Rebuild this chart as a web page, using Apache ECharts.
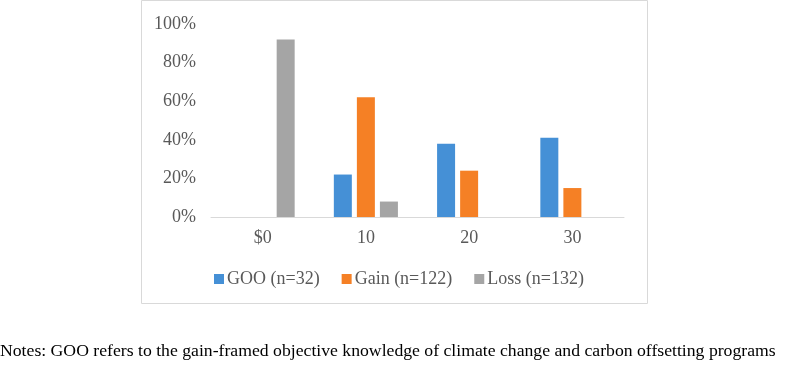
<!DOCTYPE html>
<html>
<head>
<meta charset="utf-8">
<script src="https://cdn.jsdelivr.net/npm/echarts@6/dist/echarts.min.js"></script>
<style>
  html, body { margin: 0; padding: 0; background: #fff; }
  #chart { width: 787px; height: 370px; }
</style>
</head>
<body>
<div id="chart"></div>
<script>
// categories and values (percent)
const categories = ['$0', '10', '20', '30'];
const seriesNames = ['GOO (n=32)', 'Gain (n=122)', 'Loss (n=132)'];
const gooValues = [null, 22, 38, 41];
const gainValues = [null, 62, 24, 15];
const lossValues = [92, 8, null, null];
const yTicks = [0, 20, 40, 60, 80, 100];

const colors = ['#4590D6', '#F58025', '#A5A5A5'];
const serif = 'Liberation Serif';

const chart = echarts.init(document.getElementById('chart'));

function makeSeries(name, data) {
  return {
    name: name,
    type: 'bar',
    barWidth: 18,
    barGap: '28%',
    data: data
  };
}

chart.setOption({
  animation: false,
  color: colors,
  textStyle: { fontFamily: serif },
  grid: { left: 211, right: 163, top: 24, bottom: 153 },
  legend: {
    left: 209,
    top: 265,
    icon: 'rect',
    itemWidth: 10,
    itemHeight: 10,
    itemGap: 22,
    textStyle: { fontFamily: serif, fontSize: 18, color: '#595959', padding: [0, 0, 0, -2] },
    data: seriesNames
  },
  xAxis: {
    type: 'category',
    data: categories,
    axisTick: { show: false },
    axisLine: { lineStyle: { color: '#d9d9d9', width: 1 } },
    axisLabel: { fontFamily: serif, fontSize: 18, color: '#595959', margin: 12 }
  },
  yAxis: {
    type: 'value',
    min: yTicks[0],
    max: yTicks[yTicks.length - 1],
    interval: 20,
    splitLine: { show: false },
    axisLine: { show: false },
    axisTick: { show: false },
    axisLabel: { fontFamily: serif, fontSize: 18, color: '#595959', margin: 15, formatter: '{value}%' }
  },
  graphic: [
    {
      type: 'rect',
      shape: { x: 141.5, y: 0.5, width: 506, height: 303 },
      style: { fill: 'none', stroke: '#d9d9d9', lineWidth: 1 },
      silent: true,
      z: -1
    },
    {
      type: 'text',
      left: 0,
      top: 342,
      style: {
        text: 'Notes: GOO refers to the gain-framed objective knowledge of climate change and carbon offsetting programs',
        fontFamily: serif,
        fontSize: 17.7,
        fill: '#000'
      }
    }
  ],
  series: [
    makeSeries(seriesNames[0], gooValues),
    makeSeries(seriesNames[1], gainValues),
    makeSeries(seriesNames[2], lossValues)
  ]
});
</script>
</body>
</html>
